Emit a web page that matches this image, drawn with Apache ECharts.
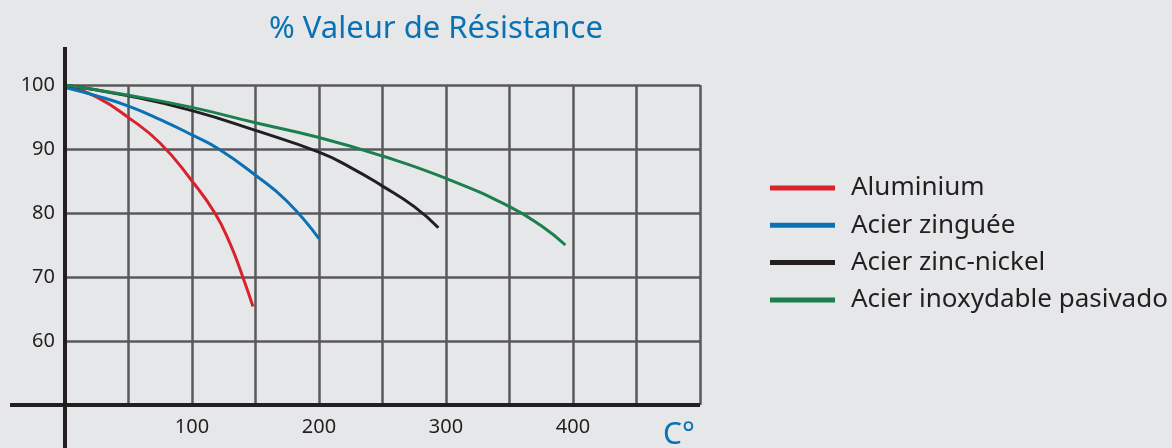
<!DOCTYPE html>
<html>
<head>
<meta charset="utf-8">
<script src="https://cdn.jsdelivr.net/npm/echarts@6/dist/echarts.min.js"></script>
<style>
  html, body { margin: 0; padding: 0; background: #e6e7e9; }
  #chart { width: 1172px; height: 448px; }
</style>
</head>
<body>
<div id="chart"></div>
<script>
// Temperature (°C) and remaining resistance (%) for each finish
const seriesNames = ['Aluminium', 'Acier zinguée', 'Acier zinc-nickel', 'Acier inoxydable pasivado'];
const seriesColors = ['#d8232d', '#0a72b4', '#231f20', '#1b7f4e'];

const aluminium = [[0, 100], [25, 98.1], [50, 94.9], [75, 90.9], [100, 85.0], [118, 80], [130, 75.2], [140, 70], [148, 65.4]];
const acierZinguee = [[0, 99.6], [25, 98.3], [50, 96.7], [75, 94.6], [100, 92.2], [121, 90], [150, 85.9], [175, 81.8], [200, 76.0]];
const acierZincNickel = [[0, 100], [50, 98.3], [100, 96.0], [150, 92.9], [200, 89.5], [225, 87.1], [250, 84.2], [275, 81.0], [294, 77.7]];
const acierInox = [[0, 100], [50, 98.4], [100, 96.5], [150, 94.1], [200, 91.8], [250, 88.9], [300, 85.4], [350, 81.0], [375, 78.0], [394, 75.0]];

const xLabels = [100, 200, 300, 400];
const yLabels = [60, 70, 80, 90, 100];

const FONT = 'Noto Sans';
const gridColor = '#58595b';
const inkColor = '#231f20';
const blue = '#0a72b4';

const chart = echarts.init(document.getElementById('chart'));

const curves = [aluminium, acierZinguee, acierZincNickel, acierInox];

chart.setOption({
  backgroundColor: '#e6e7e9',
  animation: false,
  title: {
    text: '% Valeur de Résistance',
    left: 264,
    top: 9,
    textStyle: { fontFamily: FONT, fontSize: 31, fontWeight: 'normal', color: blue }
  },
  legend: {
    orient: 'vertical',
    left: 770,
    top: 175,
    padding: 0,
    icon: 'rect',
    itemWidth: 65,
    itemHeight: 5,
    itemGap: 11.3,
    selectedMode: false,
    data: seriesNames,
    textStyle: { fontFamily: FONT, fontSize: 26, lineHeight: 26, color: inkColor, padding: [0, 0, 0, 11] }
  },
  grid: { left: 65, top: 85, right: 472, bottom: 43, containLabel: false },
  xAxis: {
    type: 'value',
    min: 0, max: 500, interval: 50,
    axisLine: { show: false },
    axisTick: { show: false },
    splitLine: { show: true, lineStyle: { color: gridColor, width: 2.5 } },
    axisLabel: {
      margin: 12,
      fontFamily: FONT, fontSize: 20, color: inkColor,
      formatter: v => xLabels.includes(v) ? String(v) : ''
    }
  },
  yAxis: {
    type: 'value',
    min: 50, max: 100, interval: 10,
    axisLine: { show: false },
    axisTick: { show: false },
    splitLine: { show: true, lineStyle: { color: gridColor, width: 2.5 } },
    axisLabel: {
      margin: 10,
      fontFamily: FONT, fontSize: 20, color: inkColor,
      formatter: v => yLabels.includes(v) ? String(v) : ''
    }
  },
  series: curves.map((d, i) => ({
    name: seriesNames[i],
    type: 'line',
    data: d,
    smooth: 0.5,
    showSymbol: false,
    color: seriesColors[i],
    lineStyle: { width: 3, color: seriesColors[i] },
    z: 3
  }))
});

// Heavy axis lines that run past the plot frame, plus the unit label
const origin = chart.convertToPixel({ gridIndex: 0 }, [0, 50]);
const corner = chart.convertToPixel({ gridIndex: 0 }, [500, 100]);
chart.setOption({
  graphic: [
    {
      type: 'line', z: 10,
      shape: { x1: origin[0], y1: corner[1] - 38, x2: origin[0], y2: 448 },
      style: { stroke: inkColor, lineWidth: 4 }
    },
    {
      type: 'line', z: 10,
      shape: { x1: 10, y1: origin[1], x2: corner[0], y2: origin[1] },
      style: { stroke: inkColor, lineWidth: 4 }
    },
    {
      type: 'text', z: 10,
      x: corner[0] - 37, y: origin[1] + 15,
      style: { text: 'C°', fontFamily: FONT, fontSize: 30, fill: blue }
    }
  ]
});
</script>
</body>
</html>
